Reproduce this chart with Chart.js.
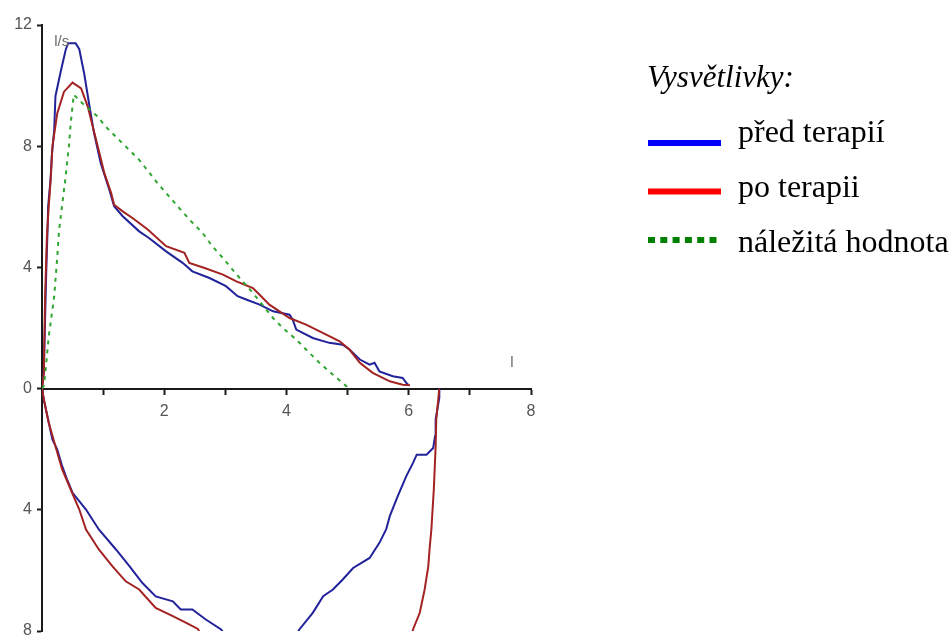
<!DOCTYPE html>
<html>
<head>
<meta charset="utf-8">
<title>Křivka průtok-objem</title>
<script src="https://cdn.jsdelivr.net/npm/chart.js"></script>
<style>
  html, body { margin: 0; padding: 0; background: #fff; }
  #wrap { position: relative; width: 950px; height: 637px; }
</style>
</head>
<body>
<div id="wrap"><canvas id="myChart" width="950" height="637"></canvas></div>
<script>
// názvy řad (legenda)
const seriesNames = ['před terapií', 'po terapii', 'náležitá hodnota'];

// výdech - před terapií (objem l, průtok l/s)
const predExpVol = [0, 0.03, 0.07, 0.09, 0.10, 0.14, 0.16, 0.20, 0.22, 0.31, 0.39, 0.43, 0.55, 0.61, 0.69, 0.77, 0.85, 0.96, 1.10, 1.18, 1.32, 1.59, 1.75, 2.03, 2.30, 2.46, 2.74, 3.01, 3.20, 3.34, 3.56, 3.78, 4.05, 4.10, 4.16, 4.43, 4.70, 4.92, 5.03, 5.20, 5.36, 5.44, 5.52, 5.74, 5.90, 5.96, 5.99];
const predExpFlow = [0, 0.6, 3.9, 5.2, 6.0, 6.9, 7.67, 8.55, 9.65, 10.5, 11.2, 11.4, 11.4, 11.2, 10.4, 9.4, 8.45, 7.45, 6.57, 6.02, 5.69, 5.19, 4.97, 4.53, 4.15, 3.87, 3.65, 3.38, 3.05, 2.94, 2.77, 2.55, 2.44, 2.28, 1.95, 1.67, 1.51, 1.45, 1.29, 0.96, 0.79, 0.85, 0.57, 0.41, 0.35, 0.19, 0.13];

// nádech - před terapií (null = křivka mimo graf)
const predInsVol = [0, 0.03, 0.17, 0.25, 0.33, 0.41, 0.50, 0.72, 0.93, 1.21, 1.43, 1.64, 1.86, 2.14, 2.27, 2.46, 2.68, 2.93, 3.02, 3.60, 4.14, 4.21, 4.43, 4.60, 4.76, 4.92, 5.09, 5.36, 5.52, 5.63, 5.69, 5.82, 5.96, 6.07, 6.13, 6.29, 6.40, 6.43, 6.44, 6.50, 6.50];
const predInsFlow = [0, -0.36, -1.68, -2.01, -2.56, -3.0, -3.44, -3.99, -4.65, -5.31, -5.86, -6.41, -6.86, -7.02, -7.29, -7.29, -7.62, -7.95, -8.2, null, -8.2, -7.95, -7.4, -6.85, -6.63, -6.3, -5.92, -5.59, -5.09, -4.65, -4.21, -3.55, -2.89, -2.45, -2.18, -2.18, -1.96, -1.57, -1.02, -0.3, 0];

// výdech - po terapii
const poExpVol = [0, 0.03, 0.05, 0.08, 0.11, 0.145, 0.17, 0.25, 0.36, 0.50, 0.64, 0.75, 0.83, 0.94, 1.02, 1.13, 1.18, 1.32, 1.48, 1.73, 2.03, 2.33, 2.41, 2.66, 2.96, 3.18, 3.45, 3.56, 3.72, 4.05, 4.32, 4.65, 4.87, 5.03, 5.20, 5.41, 5.69, 5.90, 6.02];
const poExpFlow = [0, 0.5, 3.0, 5.0, 6.0, 7.0, 7.99, 9.09, 9.8, 10.1, 9.91, 9.3, 8.65, 7.77, 7.11, 6.46, 6.07, 5.85, 5.63, 5.25, 4.70, 4.48, 4.15, 3.98, 3.76, 3.54, 3.32, 3.1, 2.77, 2.33, 2.11, 1.78, 1.56, 1.29, 0.85, 0.52, 0.24, 0.13, 0.11];

// nádech - po terapii
const poInsVol = [0, 0.03, 0.11, 0.22, 0.33, 0.47, 0.61, 0.72, 0.93, 1.15, 1.37, 1.59, 1.86, 2.14, 2.36, 2.55, 2.62, 4.00, 6.04, 6.07, 6.18, 6.26, 6.32, 6.34, 6.37, 6.41, 6.44, 6.45, 6.50];
const poInsFlow = [0, -0.36, -1.13, -1.9, -2.67, -3.33, -3.99, -4.65, -5.31, -5.86, -6.36, -6.63, -7.24, -7.51, -7.73, -7.93, -8.2, null, -8.2, -7.95, -7.4, -6.63, -5.86, -5.31, -4.65, -3.33, -1.9, -1.02, 0];

// náležitá hodnota
const normVol = [0, 0.03, 0.06, 0.11, 0.20, 0.25, 0.28, 0.38, 0.44, 0.47, 0.52, 0.66, 0.91, 1.04, 1.26, 1.59, 1.89, 2.08, 2.27, 2.44, 2.63, 2.79, 2.96, 3.12, 3.28, 3.45, 3.56, 3.78, 3.94, 4.16, 4.35, 4.54, 4.76, 4.98, 5.0];
const normFlow = [0, 0.1, 0.63, 1.72, 3.04, 4.36, 5.24, 6.89, 8.0, 8.76, 9.7, 9.42, 8.98, 8.65, 8.21, 7.55, 6.78, 6.34, 5.9, 5.52, 5.13, 4.69, 4.31, 3.92, 3.54, 3.16, 2.88, 2.33, 2.0, 1.62, 1.23, 0.85, 0.46, 0.08, 0];

// popisky os
const xTickLabels = ['', '', '2', '', '4', '', '6', '', '8'];
const yTickValues = [12, 8, 4, 0, -4, -8];
const yTickLabels = ['12', '8', '4', '0', '4', '8'];

function toPoints(vol, flow) {
    return vol.map((v, i) => ({ x: v, y: flow[i] }));
}

const BLUE = '#22229a';
const RED = '#a32222';
const GREEN = '#30a530';
const legendColors = ['#0000ff', '#ff0000', '#008000'];

// legenda vpravo
const legendPlugin = {
    id: 'vysvetlivky',
    afterDraw(chart) {
        const ctx = chart.ctx;
        ctx.save();
        ctx.fillStyle = '#000';
        ctx.textBaseline = 'alphabetic';
        ctx.textAlign = 'left';
        ctx.font = 'italic 31px "Liberation Serif", "Times New Roman", serif';
        ctx.fillText('Vysvětlivky:', 647, 87);
        ctx.font = '32px "Liberation Serif", "Times New Roman", serif';
        seriesNames.forEach((name, i) => {
            const ly = 143 + i * 48.5;
            ctx.strokeStyle = legendColors[i];
            ctx.lineWidth = 6;
            ctx.lineCap = 'butt';
            ctx.setLineDash(i === 2 ? [7, 5.3] : []);
            ctx.beginPath();
            ctx.moveTo(648, ly);
            ctx.lineTo(721, ly);
            ctx.stroke();
            ctx.fillText(name, 738, 142 + i * 55);
        });
        ctx.restore();
    }
};

// jednotky u os
const unitsPlugin = {
    id: 'jednotky',
    afterDatasetsDraw(chart) {
        const { ctx, scales: { x, y } } = chart;
        ctx.save();
        ctx.fillStyle = '#6b6b6b';
        ctx.font = '15px "Liberation Sans", Arial, sans-serif';
        ctx.textBaseline = 'alphabetic';
        ctx.fillText('l/s', x.getPixelForValue(0.2), y.getPixelForValue(11.3));
        ctx.fillText('l', x.getPixelForValue(7.66), y.getPixelForValue(0.7));
        ctx.restore();
    }
};

function renderChart() {
    const ctx = document.getElementById('myChart');

    const lineDefaults = { showLine: true, pointRadius: 0, borderWidth: 2, fill: false, spanGaps: false, tension: 0 };

    new Chart(ctx, {
        type: 'scatter',
        data: {
            datasets: [
                { ...lineDefaults, label: seriesNames[2], data: toPoints(normVol, normFlow), borderColor: GREEN, borderDash: [4, 5], order: 0 },
                { ...lineDefaults, label: seriesNames[1], data: toPoints(poExpVol, poExpFlow), borderColor: RED, order: 1 },
                { ...lineDefaults, label: seriesNames[1], data: toPoints(poInsVol, poInsFlow), borderColor: RED, order: 1 },
                { ...lineDefaults, label: seriesNames[0], data: toPoints(predExpVol, predExpFlow), borderColor: BLUE, order: 2 },
                { ...lineDefaults, label: seriesNames[0], data: toPoints(predInsVol, predInsFlow), borderColor: BLUE, order: 2 }
            ]
        },
        options: {
            responsive: false,
            animation: false,
            events: [],
            layout: { padding: { top: 25, right: 419, bottom: 6, left: 0 } },
            plugins: {
                legend: { display: false },
                tooltip: { enabled: false }
            },
            scales: {
                x: {
                    type: 'linear',
                    position: { y: 0 },
                    min: 0,
                    max: 8,
                    border: { display: true, color: '#1a1a1a', width: 2 },
                    grid: { drawOnChartArea: false, drawTicks: true, tickLength: 5, tickColor: '#1a1a1a', tickWidth: 2 },
                    ticks: {
                        stepSize: 1,
                        autoSkip: false,
                        maxRotation: 0,
                        padding: 8,
                        color: '#555',
                        font: { family: '"Liberation Sans", Arial, sans-serif', size: 16 },
                        callback: v => xTickLabels[Math.round(v)] ?? ''
                    }
                },
                y: {
                    type: 'linear',
                    position: 'left',
                    min: -8,
                    max: 12,
                    border: { display: true, color: '#1a1a1a', width: 2 },
                    grid: { drawOnChartArea: false, drawTicks: true, tickLength: 5, tickColor: '#1a1a1a', tickWidth: 2 },
                    afterFit: s => { s.width = 42; s.paddingTop = 0; s.paddingBottom = 0; },
                    afterBuildTicks: s => { s.ticks = yTickValues.map(v => ({ value: v })); },
                    ticks: {
                        padding: 5,
                        color: '#555',
                        font: { family: '"Liberation Sans", Arial, sans-serif', size: 16 },
                        callback: v => yTickLabels[yTickValues.indexOf(v)] ?? ''
                    }
                }
            }
        },
        plugins: [unitsPlugin, legendPlugin]
    });
}

renderChart();
</script>
</body>
</html>
